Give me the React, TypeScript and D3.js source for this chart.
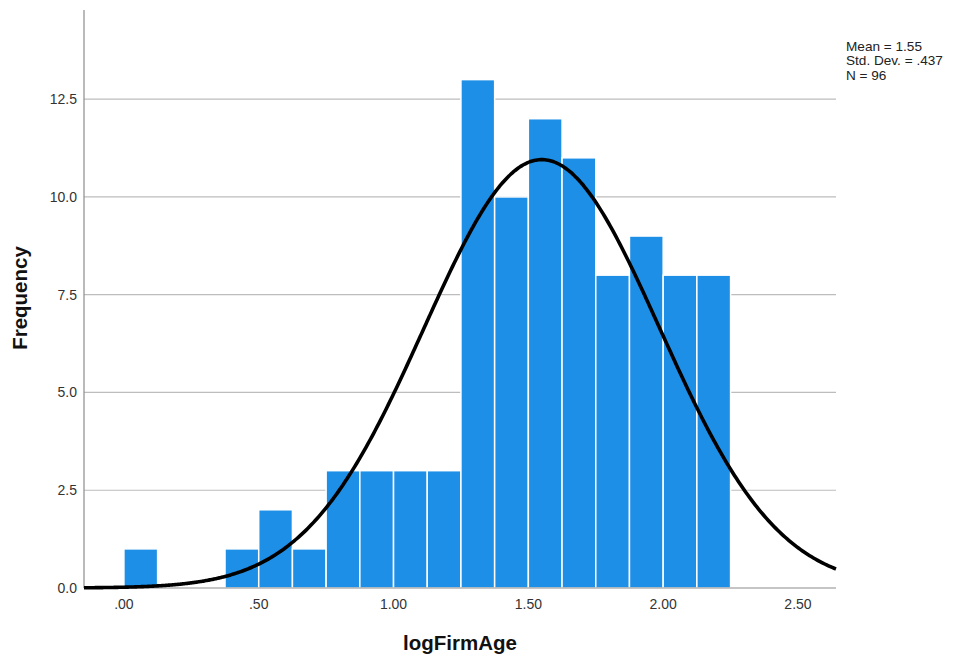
import React from "react";
import * as d3 from "d3";

const binStarts = [0, 0.125, 0.25, 0.375, 0.5, 0.625, 0.75, 0.875, 1.0, 1.125, 1.25, 1.375, 1.5, 1.625, 1.75, 1.875, 2.0, 2.125];
const counts = [1, 0, 0, 1, 2, 1, 3, 3, 3, 3, 13, 10, 12, 11, 8, 9, 8, 8];
const binWidth = 0.125;
const xTicks = [0, 0.5, 1.0, 1.5, 2.0, 2.5];
const xTickLabels = [".00", ".50", "1.00", "1.50", "2.00", "2.50"];
const yTicks = [0, 2.5, 5.0, 7.5, 10.0, 12.5];
const mean = 1.55;
const sd = 0.437;
const n = 96;
const legendLines = ["Mean = 1.55", "Std. Dev. = .437", "N = 96"];

export default function App() {
  const left = 84, right = 836, top = 10, bottom = 588;
  const x = d3.scaleLinear().domain([-0.148, 2.641]).range([left, right]);
  const y = d3.scaleLinear().domain([0, 14.78]).range([bottom, top]);
  const font = "'Liberation Sans', Arial, sans-serif";

  const curvePts = d3.range(0, 401).map((i) => {
    const v = -0.148 + (2.641 + 0.148) * (i / 400);
    const f = n * binWidth * Math.exp(-0.5 * ((v - mean) / sd) ** 2) / (sd * Math.sqrt(2 * Math.PI));
    return [v, f] as [number, number];
  });
  const line = d3.line<[number, number]>().x((d) => x(d[0])).y((d) => y(d[1])).curve(d3.curveBasis);

  return (
    <svg width={954} height={661} style={{ position: "absolute", left: 0, top: 0, background: "#fff" }}>
      <rect x={0} y={0} width={954} height={661} fill="#fff" />
      {yTicks.filter((t) => t > 0).map((t) => (
        <line key={t} x1={left} x2={right} y1={y(t)} y2={y(t)} stroke="#bdbdbd" strokeWidth={1.2} />
      ))}
      {binStarts.map((b, i) =>
        counts[i] > 0 ? (
          <rect key={i} x={x(b)} y={y(counts[i])} width={x(b + binWidth) - x(b)} height={y(0) - y(counts[i])}
            fill="#1e8fe6" stroke="#ffffff" strokeWidth={1.5} />
        ) : null
      )}
      <line x1={left} x2={left} y1={top} y2={bottom} stroke="#8c8c8c" strokeWidth={1.2} />
      <line x1={left} x2={right} y1={bottom} y2={bottom} stroke="#8c8c8c" strokeWidth={1.2} />
      <path d={line(curvePts) || ""} fill="none" stroke="#000" strokeWidth={3.6} />
      {yTicks.map((t) => (
        <text key={t} x={77} y={y(t)} dy="0.35em" textAnchor="end" fontFamily={font} fontSize={14} fill="#333">
          {t.toFixed(1)}
        </text>
      ))}
      {xTicks.map((t, i) => (
        <text key={t} x={x(t)} y={604} dy="0.35em" textAnchor="middle" fontFamily={font} fontSize={14} fill="#333">
          {xTickLabels[i]}
        </text>
      ))}
      <text x={460} y={643} dy="0.35em" textAnchor="middle" fontFamily={font} fontSize={20.5} fontWeight="bold" fill="#111">
        logFirmAge
      </text>
      <text transform="translate(20,298) rotate(-90)" dy="0.35em" textAnchor="middle" fontFamily={font} fontSize={20.5} fontWeight="bold" fill="#111">
        Frequency
      </text>
      {legendLines.map((s, i) => (
        <text key={s} x={846} y={46 + i * 14.5} dy="0.35em" fontFamily={font} fontSize={13.6} fill="#222">
          {s}
        </text>
      ))}
    </svg>
  );
}
